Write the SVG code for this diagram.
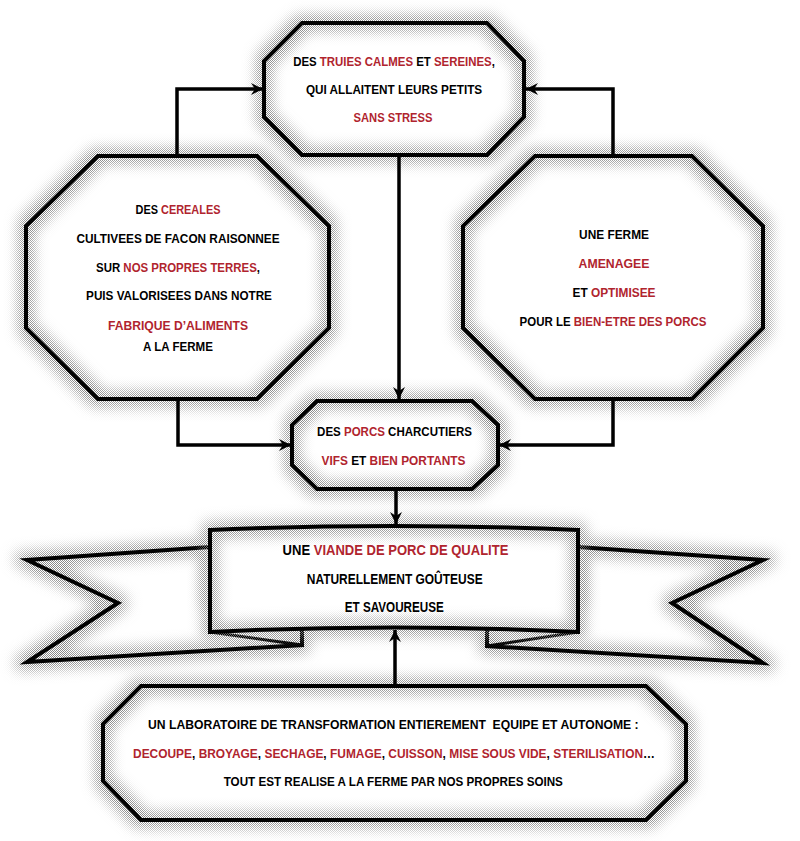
<svg xmlns="http://www.w3.org/2000/svg" width="800" height="841" viewBox="0 0 800 841">
<style>
.t{font-family:"Liberation Sans",Arial,sans-serif;font-weight:bold;font-size:13px;fill:#000;text-anchor:middle}
.b{font-size:14px}
.r{fill:#B0242E}
.fill{fill:#fff;stroke:none}
.glow{fill:none;stroke:#000;stroke-width:4;filter:url(#dots)}
.line{fill:none;stroke:#000;stroke-width:4;stroke-linejoin:miter}
.thin{fill:none;stroke:#000;stroke-width:3}
.conn{fill:none;stroke:#000;stroke-width:3.5;marker-end:url(#ah)}
</style>
<defs>
<filter id="dots" filterUnits="userSpaceOnUse" x="0" y="0" width="800" height="841" primitiveUnits="userSpaceOnUse">
<feMorphology in="SourceAlpha" operator="dilate" radius="5" result="d"/>
<feGaussianBlur in="d" stdDeviation="7" result="b"/>
<feComponentTransfer in="b" result="b2"><feFuncA type="linear" slope="1.3" intercept="0"/></feComponentTransfer>
<feFlood flood-color="#888" x="0" y="0" width="1" height="1" result="p1"/>
<feFlood flood-color="#888" x="1" y="1" width="1" height="1" result="p2"/>
<feMerge x="0" y="0" width="2" height="2" result="tile"><feMergeNode in="p1"/><feMergeNode in="p2"/></feMerge>
<feTile in="tile" x="0" y="0" width="800" height="841" result="chk"/>
<feComposite in="chk" in2="b2" operator="in"/>
</filter>
<marker id="ah" markerUnits="userSpaceOnUse" markerWidth="14" markerHeight="12" refX="12" refY="6" orient="auto">
<path d="M0,0 L12,6 L0,12 L4,6 z" fill="#000"/>
</marker>
<polygon id="p-top" points="302,23 487,23 524,61 524,117 487,155 302,155 264,117 264,61"/>
<polygon id="p-left" points="98,156 257,156 329,226 329,328 257,399 98,399 26,328 26,226"/>
<polygon id="p-right" points="535,156 692,156 763,226 763,328 692,399 535,399 463,328 463,226"/>
<polygon id="p-mid" points="317,401 472,401 498,425 498,465 472,489 317,489 292,465 292,425"/>
<polygon id="p-bot" points="141,686 646,686 686,724 686,781 646,820 141,820 103,781 103,724"/>
<polygon id="p-wl" points="210,547 27,560 118,603 27,662 302,645 302,600 210,600"/>
<polygon id="p-wr" points="578,547 763,560 672,603 763,663 487,646 487,600 578,600"/>
<path id="p-rect" d="M210,530 Q394,522 578,530 L578,632 Q394,623 210,632 Z"/>
</defs>
<rect width="800" height="841" fill="#fff"/>

<g id="node-truies">
<use href="#p-top" class="fill"/><use href="#p-top" class="glow"/><use href="#p-top" class="line"/>
<text class="t" transform="translate(394,65.7) scale(0.879,1)">DES <tspan class="r">TRUIES CALMES</tspan> ET <tspan class="r">SEREINES</tspan>,</text>
<text class="t" transform="translate(394,93.7) scale(0.904,1)">QUI ALLAITENT LEURS PETITS</text>
<text class="t r" transform="translate(393,121.7) scale(0.861,1)">SANS STRESS</text>
</g>

<g id="node-cereales">
<use href="#p-left" class="fill"/><use href="#p-left" class="glow"/><use href="#p-left" class="line"/>
<text class="t" transform="translate(178,213.7) scale(0.84,1)">DES <tspan class="r">CEREALES</tspan></text>
<text class="t" transform="translate(178,242.7) scale(0.91,1)">CULTIVEES DE FACON RAISONNEE</text>
<text class="t" transform="translate(178,271.7) scale(0.88,1)">SUR <tspan class="r">NOS PROPRES TERRES</tspan>,</text>
<text class="t" transform="translate(179,299.7) scale(0.902,1)">PUIS VALORISEES DANS NOTRE</text>
<text class="t r" transform="translate(178,329.7) scale(0.934,1)">FABRIQUE D’ALIMENTS</text>
<text class="t" transform="translate(178,350.7) scale(0.89,1)">A LA FERME</text>
</g>

<g id="node-ferme">
<use href="#p-right" class="fill"/><use href="#p-right" class="glow"/><use href="#p-right" class="line"/>
<text class="t" transform="translate(614,238.7) scale(0.914,1)">UNE FERME</text>
<text class="t r" transform="translate(614,267.7) scale(0.945,1)">AMENAGEE</text>
<text class="t" transform="translate(614,296.7) scale(0.912,1)">ET <tspan class="r">OPTIMISEE</tspan></text>
<text class="t" transform="translate(613,325.7) scale(0.884,1)">POUR LE <tspan class="r">BIEN-ETRE DES PORCS</tspan></text>
</g>

<g id="node-porcs">
<use href="#p-mid" class="fill"/><use href="#p-mid" class="glow"/><use href="#p-mid" class="line"/>
<text class="t" transform="translate(394.5,436.4) scale(0.887,1)">DES <tspan class="r">PORCS</tspan> CHARCUTIERS</text>
<text class="t" transform="translate(393.5,464.7) scale(0.912,1)"><tspan class="r">VIFS</tspan> ET <tspan class="r">BIEN PORTANTS</tspan></text>
</g>

<g id="node-viande">
<use href="#p-wl" class="fill"/><use href="#p-wl" class="glow"/><use href="#p-wl" class="line"/>
<use href="#p-wr" class="fill"/><use href="#p-wr" class="glow"/><use href="#p-wr" class="line"/>
<line class="thin" x1="210" y1="632" x2="302" y2="645"/>
<line class="thin" x1="578" y1="632" x2="487" y2="646"/>
<use href="#p-rect" class="fill"/><use href="#p-rect" class="glow"/><use href="#p-rect" class="line"/>
<text class="t b" transform="translate(395.5,555) scale(0.931,1)">UNE <tspan class="r">VIANDE DE PORC DE QUALITE</tspan></text>
<text class="t b" transform="translate(394.7,584) scale(0.855,1)">NATURELLEMENT GOÛTEUSE</text>
<text class="t b" transform="translate(394.3,612) scale(0.835,1)">ET SAVOUREUSE</text>
</g>

<g id="node-laboratoire">
<use href="#p-bot" class="fill"/><use href="#p-bot" class="glow"/><use href="#p-bot" class="line"/>
<text class="t" transform="translate(393.3,729) scale(0.937,1)">UN LABORATOIRE DE TRANSFORMATION ENTIEREMENT &#160;EQUIPE ET AUTONOME :</text>
<text class="t" transform="translate(394,758) scale(0.917,1)"><tspan class="r">DECOUPE</tspan>, <tspan class="r">BROYAGE</tspan>, <tspan class="r">SECHAGE</tspan>, <tspan class="r">FUMAGE</tspan>, <tspan class="r">CUISSON</tspan>, <tspan class="r">MISE SOUS VIDE</tspan>, <tspan class="r">STERILISATION</tspan>…</text>
<text class="t" transform="translate(393.3,785.7) scale(0.897,1)">TOUT EST REALISE A LA FERME PAR NOS PROPRES SOINS</text>
</g>

<g id="connectors">
<path class="conn" d="M177,156 V89 H263"/>
<path class="conn" d="M613,156 V89 H526"/>
<path class="conn" d="M399,155 V399"/>
<path class="conn" d="M178,399 V445 H291"/>
<path class="conn" d="M613,399 V445 H499"/>
<path class="conn" d="M396,489 V524"/>
<path class="conn" d="M395,686 V630"/>
</g>
</svg>
